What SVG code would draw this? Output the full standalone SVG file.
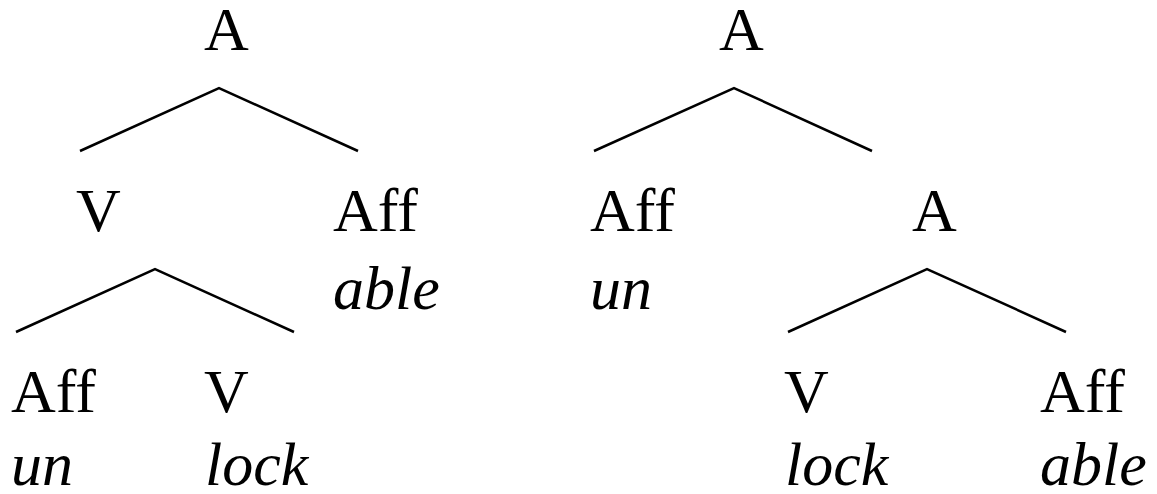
<svg xmlns="http://www.w3.org/2000/svg" width="1157" height="494" viewBox="0 0 1157 494">
<style>
text { font-family: "Liberation Serif", "Times New Roman", serif; font-size: 62px; fill: #000; }
.i { font-style: italic; }
.e { stroke: #000; stroke-width: 2.5; fill: none; stroke-linejoin: miter; }
</style>
<rect width="1157" height="494" fill="#fff"/>
<g id="connectors">
<polyline class="e" points="80,151 219,88 358,151"/>
<polyline class="e" points="16,332 155,269 294,332"/>
<polyline class="e" points="594,151 734,88 872,151"/>
<polyline class="e" points="788,332 927,269 1066,332"/>
</g>
<g id="left-A"><text x="204" y="50">A</text></g>
<g id="left-V"><text x="76" y="231">V</text></g>
<g id="left-Aff-able"><text x="333" y="231">Aff</text><text class="i" x="333" y="309">able</text></g>
<g id="left-Aff-un"><text x="11" y="412">Aff</text><text class="i" x="11" y="485">un</text></g>
<g id="left-V-lock"><text x="204" y="412">V</text><text class="i" x="205" y="485">lock</text></g>
<g id="right-A"><text x="719" y="50">A</text></g>
<g id="right-Aff-un"><text x="590" y="231">Aff</text><text class="i" x="590" y="309">un</text></g>
<g id="right-A2"><text x="912" y="231">A</text></g>
<g id="right-V-lock"><text x="784" y="412">V</text><text class="i" x="785" y="485">lock</text></g>
<g id="right-Aff-able"><text x="1040" y="412">Aff</text><text class="i" x="1040" y="485">able</text></g>
</svg>
